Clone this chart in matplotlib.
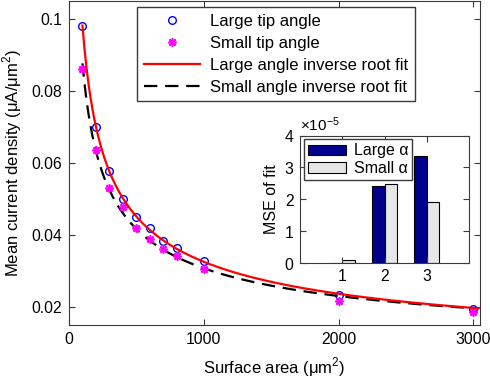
import numpy as np
import matplotlib
matplotlib.use("Agg")
import matplotlib.pyplot as plt
from matplotlib.ticker import ScalarFormatter

plt.rcParams['font.family'] = ['Liberation Sans', 'DejaVu Sans']
plt.rcParams['font.size'] = 12
plt.rcParams['mathtext.fontset'] = 'custom'
plt.rcParams['mathtext.rm'] = 'Liberation Sans'

# surface area (um^2) and mean current density (uA/um^2)
area = [100, 200, 300, 400, 500, 600, 700, 800, 1000, 2000, 3000]
large_tip = [0.0981, 0.0700, 0.0577, 0.0501, 0.0450, 0.0419, 0.0383, 0.0363, 0.0329, 0.0234, 0.0195]
small_tip = [0.0862, 0.0637, 0.0531, 0.0479, 0.0419, 0.0388, 0.0361, 0.0342, 0.0306, 0.0217, 0.0186]

# inset: MSE of fit for the three fit models
fit_model = [1, 2, 3]
mse_large = [0.0, 2.43e-5, 3.35e-5]
mse_small = [0.08e-5, 2.48e-5, 1.92e-5]

spine_col = '#3a3a3a'
navy = '#00008F'
light = '#E6E6E6'


def inv_root_fit(x, y):
    # y = a / sqrt(x) + b
    a, b = np.polyfit(1 / np.sqrt(np.asarray(x, float)), np.asarray(y), 1)
    return a, b


fig = plt.figure(figsize=(4.9, 3.79), dpi=100)
ax = fig.add_axes([69 / 490, 54 / 379, 411 / 490, 324 / 379])

a_l, b_l = inv_root_fit(area, large_tip)
a_s, b_s = inv_root_fit(area, small_tip)
xl = np.linspace(100, 3040, 400)
xs = np.linspace(100, 3000, 400)

ax.plot(area, large_tip, 'o', ls='none', mfc='none', mec='#0000FF', ms=5.5, mew=1.0,
        label='Large tip angle', zorder=3)
ax.plot(area, small_tip, marker=(8, 2, 0), ls='none', color='#FF00FF', ms=6, mew=1.2,
        label='Small tip angle', zorder=3)
ax.plot(xl, a_l / np.sqrt(xl) + b_l, '-', color='#FF0000', lw=1.6,
        label='Large angle inverse root fit', zorder=4)
ax.plot(xs, a_s / np.sqrt(xs) + b_s, '--', color='black', lw=1.6, dashes=(6, 3.5),
        label='Small angle inverse root fit', zorder=2)

ax.set_xlim(0, 3050)
ax.set_ylim(0.015, 0.105)
ax.set_xticks([0, 1000, 2000, 3000])
ax.set_yticks([0.02, 0.04, 0.06, 0.08, 0.1])
ax.set_yticklabels(['0.02', '0.04', '0.06', '0.08', '0.1'])
ax.tick_params(direction='in', top=True, right=True, length=4, color=spine_col, pad=5,
               labelsize=11.3)
for s in ax.spines.values():
    s.set_color(spine_col)
ax.set_xlabel('Surface area (μm$^2$)', labelpad=6)
ax.set_ylabel('Mean current density (μA/μm$^2$)', labelpad=5)

leg = ax.legend(loc='upper left', bbox_to_anchor=(137 / 490, 1 - 7 / 379),
                bbox_transform=fig.transFigure, fancybox=False, framealpha=1,
                edgecolor=spine_col, handlelength=3.4, labelspacing=0.42,
                borderaxespad=0, borderpad=0.4, handletextpad=0.6, fontsize=12)
leg.get_frame().set_linewidth(1.0)

# inset bar chart
ins = fig.add_axes([300 / 490, 116 / 379, 169 / 490, 127.5 / 379])
w = 0.29
xpos = np.array(fit_model)
ins.bar(xpos - w / 2, mse_large, w, color=navy, edgecolor='black', lw=0.8, label='Large α')
ins.bar(xpos + w / 2, mse_small, w, color=light, edgecolor='black', lw=0.8, label='Small α')
ins.set_xlim(0, 4)
ins.set_ylim(0, 4e-5)
ins.set_xticks(fit_model)
ins.set_yticks([0, 1e-5, 2e-5, 3e-5, 4e-5])
fmt = ScalarFormatter(useMathText=True)
fmt.set_powerlimits((0, 0))
ins.yaxis.set_major_formatter(fmt)
ins.yaxis.get_offset_text().set_fontsize(11)
ins.tick_params(direction='in', top=True, right=True, length=4, color=spine_col, pad=4,
                labelsize=11.3)
for s in ins.spines.values():
    s.set_color(spine_col)
ins.set_ylabel('MSE of fit', labelpad=4, fontsize=11.5)
ileg = ins.legend(loc='upper left', fancybox=False, framealpha=1, edgecolor=spine_col,
                  handlelength=2.4, handleheight=0.65, labelspacing=0.15,
                  borderaxespad=0.25, borderpad=0.25, handletextpad=0.45, fontsize=11.5)
ileg.get_frame().set_linewidth(1.0)

fig.savefig('out.png', dpi=100)
